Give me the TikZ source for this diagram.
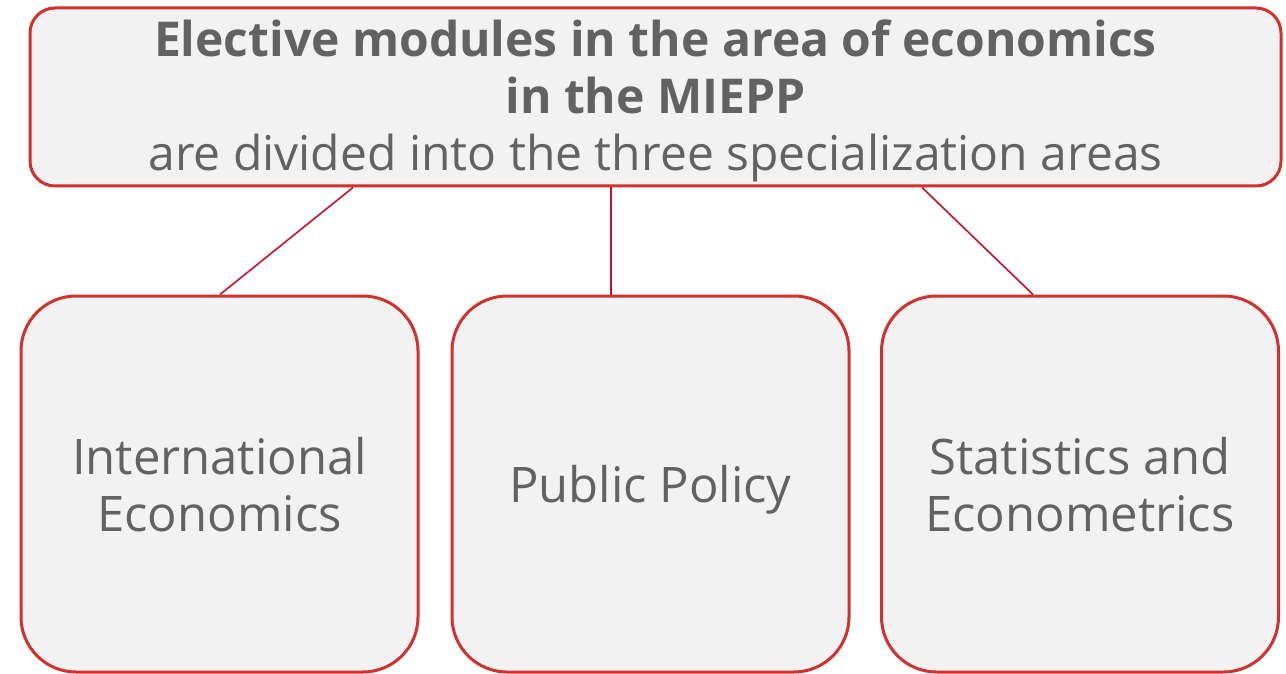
\documentclass[tikz,border=0pt]{standalone}
\usepackage{fontspec}
\setmainfont{Open Sans}
\definecolor{boxred}{HTML}{D0312D}
\definecolor{linkred}{HTML}{C8102E}
\definecolor{boxfill}{HTML}{F2F2F2}
\definecolor{txtgray}{HTML}{626262}
\begin{document}
\begin{tikzpicture}[x=1pt,y=-1pt,
  topbox/.style={draw=boxred, line width=3pt, fill=boxfill, rounded corners=25pt, inner sep=0pt},
  areabox/.style={draw=boxred, line width=3pt, fill=boxfill, rounded corners=55pt, inner sep=0pt, minimum width=397pt, minimum height=376pt, text=txtgray, align=center, text depth=0pt, font=\fontsize{49}{57}\selectfont},
  link/.style={draw=linkred, line width=1.6pt}]
\useasboundingbox (0,0) rectangle (1286,674);
\node[topbox, minimum width=1251pt, minimum height=178pt] (top) at (655.5,97) {};
\node[text=txtgray, align=center, font=\fontsize{48}{57}\selectfont] (toptext) at (655.5,100.5) {\textbf{Elective modules in the area of economics}\\\textbf{in the MIEPP}\\are divided into the three specialization areas};
\node[areabox] (ie) at (219.5,484) {International\\Economics};
\node[areabox] (pp) at (650.5,484) {Public Policy};
\node[areabox] (se) at (1080,484) {Statistics and\\Econometrics};
\draw[link] (top.south -| 353,0) -- (ie.north -| 220,0);
\draw[link] (top.south -| 611,0) -- (pp.north -| 611,0);
\draw[link] (top.south -| 922,0) -- (se.north -| 1033,0);
\end{tikzpicture}
\end{document}
